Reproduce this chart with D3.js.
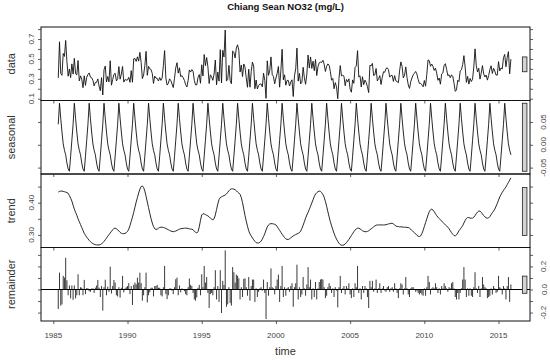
<!DOCTYPE html>
<html><head><meta charset="utf-8">
<script src="https://cdn.jsdelivr.net/npm/d3@7"></script>
<style>body{margin:0;background:#fff;} svg{display:block;}</style>
</head><body><svg id="c" width="550" height="361"></svg>
<script>
// ---------------- data (monthly, first observation May 1985) ----------------
const title = "Chiang Sean NO32 (mg/L)";
const startYear = 1985, startMonth = 5;
const componentNames = ["data", "seasonal", "trend", "remainder"];
const xLabel = "time";

// periodic seasonal component, 12 values starting at the first observed month
const seasonalCycle = [0.045, 0.091, 0.058, 0.028, 0.002, -0.012, -0.022, -0.040, -0.053, -0.058, -0.025, 0.010];

const trend = [
0.433,0.435,0.436,0.436,0.435,0.434,0.433,0.431,0.429,0.422,0.414,0.405,
0.392,0.380,0.370,0.361,0.350,0.341,0.332,0.323,0.314,0.305,0.299,0.293,
0.288,0.283,0.279,0.276,0.273,0.271,0.270,0.269,0.269,0.269,0.270,0.272,
0.276,0.280,0.285,0.290,0.296,0.301,0.306,0.311,0.316,0.320,0.321,0.319,
0.316,0.312,0.308,0.305,0.304,0.304,0.305,0.307,0.311,0.318,0.329,0.342,
0.355,0.370,0.386,0.402,0.416,0.430,0.442,0.450,0.452,0.447,0.436,0.420,
0.402,0.385,0.367,0.351,0.337,0.326,0.319,0.317,0.318,0.321,0.323,0.324,
0.324,0.323,0.322,0.320,0.318,0.316,0.314,0.312,0.311,0.310,0.311,0.312,
0.314,0.316,0.318,0.319,0.320,0.320,0.321,0.321,0.321,0.320,0.319,0.318,
0.318,0.316,0.312,0.308,0.306,0.310,0.325,0.345,0.362,0.366,0.365,0.363,
0.361,0.359,0.356,0.352,0.349,0.347,0.350,0.362,0.379,0.396,0.410,0.416,
0.418,0.420,0.422,0.424,0.427,0.432,0.437,0.441,0.443,0.443,0.442,0.440,
0.437,0.433,0.430,0.426,0.416,0.400,0.380,0.360,0.343,0.327,0.313,0.303,
0.297,0.291,0.285,0.280,0.276,0.275,0.275,0.277,0.281,0.287,0.295,0.304,
0.315,0.325,0.331,0.334,0.335,0.335,0.334,0.333,0.331,0.326,0.320,0.314,
0.308,0.302,0.297,0.292,0.288,0.286,0.286,0.288,0.291,0.294,0.297,0.299,
0.301,0.303,0.305,0.307,0.312,0.320,0.330,0.341,0.352,0.362,0.370,0.379,
0.389,0.399,0.409,0.419,0.427,0.431,0.434,0.436,0.435,0.431,0.425,0.417,
0.404,0.389,0.372,0.356,0.341,0.328,0.316,0.305,0.295,0.287,0.280,0.274,
0.270,0.268,0.268,0.269,0.272,0.276,0.281,0.286,0.292,0.298,0.304,0.310,
0.315,0.319,0.321,0.321,0.319,0.316,0.313,0.311,0.310,0.310,0.311,0.313,
0.316,0.319,0.322,0.325,0.328,0.330,0.331,0.331,0.331,0.331,0.331,0.331,
0.331,0.332,0.333,0.334,0.335,0.336,0.336,0.334,0.331,0.328,0.326,0.326,
0.325,0.325,0.325,0.324,0.324,0.324,0.323,0.323,0.321,0.318,0.314,0.310,
0.307,0.303,0.299,0.296,0.295,0.297,0.304,0.314,0.326,0.338,0.350,0.362,
0.372,0.378,0.380,0.377,0.372,0.366,0.360,0.355,0.351,0.347,0.343,0.339,
0.335,0.331,0.328,0.324,0.319,0.313,0.307,0.302,0.298,0.297,0.300,0.306,
0.313,0.318,0.323,0.329,0.337,0.345,0.351,0.354,0.354,0.352,0.352,0.352,
0.355,0.360,0.366,0.371,0.374,0.374,0.370,0.365,0.360,0.356,0.353,0.352,
0.353,0.357,0.363,0.369,0.374,0.380,0.389,0.398,0.408,0.418,0.425,0.432,
0.438,0.444,0.449,0.456,0.463,0.470,0.477];

const remainder = [
-0.169,0.146,-0.14,-0.129,0.118,0.103,0.275,0.08,-0.05,0.035,-0.077,0.035,
-0.09,0.035,-0.077,-0.05,0.132,-0.05,0.02,0.015,-0.05,0.083,-0.04,0.012,
0.01,-0.015,-0.02,0.008,0.01,-0.03,0.016,0.035,0.083,0.016,-0.065,0.03,
-0.183,0.02,0.085,-0.05,0.025,-0.02,0.198,-0.035,0.03,0.083,0.06,-0.05,
-0.06,0.02,-0.07,0.015,0.118,-0.025,0.01,0.02,0.03,0.055,-0.04,0.03,
-0.134,0.04,0.06,0.045,0.103,0.06,0.146,0.055,-0.097,-0.05,0.02,0.146,
-0.112,-0.05,-0.025,0.015,0.015,-0.06,0.03,0.03,0.04,0.015,0.015,-0.05,
-0.06,0.02,0.204,-0.04,-0.083,-0.05,0.008,0.01,-0.01,-0.04,0.02,0.089,
0.103,-0.05,0.035,-0.025,0.01,0.003,-0.015,-0.04,-0.05,0.02,0.095,0.04,
0.03,-0.03,-0.086,-0.097,-0.069,0.015,0.04,-0.05,0.132,0.02,0.204,0.06,
0.108,-0.03,-0.161,-0.04,-0.03,-0.05,0.02,0.167,-0.086,0.03,-0.108,0.167,
-0.204,0.075,0.04,0.339,-0.15,-0.129,0.02,-0.118,-0.14,0.194,0.15,0.06,
0.129,0.118,0.097,-0.086,0.02,-0.065,0.091,0.097,0.02,-0.054,0.108,-0.097,
0.03,0.086,0.086,-0.108,0.01,-0.065,-0.02,0.01,0.02,-0.01,0.086,-0.03,
-0.256,0.065,-0.054,0.02,0.183,0.02,0.01,-0.043,0.03,0.086,0.129,-0.108,
0.03,0.204,-0.065,0.02,-0.054,0.01,0.02,-0.02,0.03,0.054,-0.15,0.02,
0.054,0.215,-0.086,0.02,-0.065,-0.043,0.108,0.01,-0.054,0.043,0.194,0.02,
0.086,-0.086,0.01,-0.065,0.065,-0.086,0.01,0.065,0.086,0.091,0.086,0.02,
-0.075,-0.054,0.02,0.054,0.03,-0.03,0.01,-0.065,0.02,-0.01,-0.155,0.02,
0.118,-0.03,0.01,0.03,-0.043,0.03,0.01,0.054,-0.043,-0.075,0.01,-0.065,
0.054,0.02,0.204,-0.03,0.01,-0.086,0.03,-0.03,0.03,0.01,-0.065,-0.161,
0.075,0.02,0.075,-0.02,0.01,0.086,-0.03,0.01,0.054,-0.03,0.01,0.03,
-0.01,-0.02,0.02,0.03,-0.02,0.01,0.02,-0.02,0.054,0.01,-0.03,-0.075,
0.01,0.054,0.043,-0.043,0.01,0.108,0.01,-0.043,-0.065,0.01,0.02,0.02,
0.005,-0.02,-0.01,-0.03,-0.043,-0.03,-0.043,-0.054,0.01,-0.054,0.02,0.118,
0.065,-0.043,0.01,0.02,0.01,0.054,0.02,-0.03,0.01,-0.043,0.03,0.01,
0.054,0.03,0.01,-0.02,0.02,0.01,0.054,0.065,0.01,-0.065,-0.086,-0.03,
-0.086,-0.03,0.01,0.086,0.194,0.086,-0.065,0.01,-0.054,0.01,-0.054,-0.065,
0.02,0.15,0.01,-0.03,0.03,-0.065,0.01,0.108,0.043,0.02,0.01,-0.075,
-0.065,-0.054,0.01,-0.043,0.03,0.01,-0.03,-0.02,0.118,0.02,0.01,-0.043,
0.03,0.01,-0.086,0.03,0.108,-0.108,0.043];

// axis ticks (all drawn) and the ones that carry a label
const yearTicks = [1985, 1990, 1995, 2000, 2005, 2010, 2015];
const dataTicks = [0.1, 0.2, 0.3, 0.4, 0.5, 0.6, 0.7, 0.8];
const dataTickLabels = [0.1, 0.3, 0.5, 0.7];
const seasonalTicks = [-0.05, 0, 0.05];
const seasonalTickLabels = [-0.05, 0, 0.05];
const trendTicks = [0.30, 0.35, 0.40, 0.45];
const trendTickLabels = [0.30, 0.40];
const remainderTicks = [-0.2, -0.1, 0, 0.1, 0.2, 0.3];
const remainderTickLabels = [-0.2, 0, 0.2];

// ---------------- derived series ----------------
const times = trend.map((_, i) => startYear + (startMonth - 1) / 12 + i / 12);
const seasonal = trend.map((_, i) => seasonalCycle[i % 12]);
const data = trend.map((v, i) => seasonal[i] + v + remainder[i]);

// ---------------- layout ----------------
const L = 41, R = 530, T = 27, PH = 73.5;
const font = "'Liberation Sans', Arial, Helvetica, sans-serif";
const svg = d3.select("#c");
const loc = d3.formatLocale({decimal: ".", thousands: ",", grouping: [3], currency: ["", ""], minus: "-"});

const x = d3.scaleLinear().domain([1984.17, 2017.12]).range([L, R]);

const panels = [
  {name: componentNames[0], values: data, domain: [0.082, 0.821], ticks: dataTicks, labels: dataTickLabels, fmt: loc.format(".1f"), side: "left", type: "line"},
  {name: componentNames[1], values: seasonal, domain: [-0.064, 0.097], ticks: seasonalTicks, labels: seasonalTickLabels, fmt: loc.format(".2f"), side: "right", type: "line"},
  {name: componentNames[2], values: trend, domain: [0.261, 0.489], ticks: trendTicks, labels: trendTickLabels, fmt: loc.format(".2f"), side: "left", type: "line"},
  {name: componentNames[3], values: remainder, domain: [-0.273, 0.364], ticks: remainderTicks, labels: remainderTickLabels, fmt: loc.format(".1f"), side: "right", type: "h"}
];

// range bars: height = smallest range among components
const ranges = panels.map(p => d3.extent(p.values));
const mx = d3.min(ranges, r => r[1] - r[0]);
const dx = (R - L) / 64;

panels.forEach((p, k) => {
  const top = T + k * PH, bot = top + PH;
  const y = d3.scaleLinear().domain(p.domain).range([bot, top]);
  const g = svg.append("g");

  if (p.type === "line") {
    g.append("path")
      .datum(p.values)
      .attr("d", d3.line().x((d, i) => x(times[i])).y(d => y(d)))
      .attr("fill", "none").attr("stroke", "#111").attr("stroke-width", 0.9)
      .attr("stroke-linejoin", "round");
  } else {
    g.selectAll("line.h").data(p.values).join("line")
      .attr("x1", (d, i) => x(times[i])).attr("x2", (d, i) => x(times[i]))
      .attr("y1", y(0)).attr("y2", d => y(d))
      .attr("stroke", "#222").attr("stroke-width", 0.9);
    g.append("line").attr("x1", L).attr("x2", R).attr("y1", y(0)).attr("y2", y(0))
      .attr("stroke", "#000").attr("stroke-width", 1);
  }

  // range bar
  const c = (ranges[k][0] + ranges[k][1]) / 2;
  g.append("rect")
    .attr("x", R - dx).attr("width", 0.6 * dx)
    .attr("y", y(c + mx / 2)).attr("height", y(c - mx / 2) - y(c + mx / 2))
    .attr("fill", "#d3d3d3").attr("stroke", "#222").attr("stroke-width", 0.8);

  // box
  g.append("rect").attr("x", L).attr("y", top).attr("width", R - L).attr("height", PH)
    .attr("fill", "none").attr("stroke", "#111").attr("stroke-width", 1);

  // axes ticks
  const axL = d3.axisLeft(y).tickValues(p.ticks).tickSize(3).tickFormat("");
  const axR = d3.axisRight(y).tickValues(p.ticks).tickSize(3).tickFormat("");
  const axB = d3.axisBottom(x).tickValues(yearTicks).tickSize(3).tickFormat("");
  [[axL, `translate(${L},0)`], [axR, `translate(${R},0)`], [axB, `translate(0,${bot})`]].forEach(([ax, tr]) => {
    const a = g.append("g").attr("transform", tr).call(ax);
    a.select(".domain").remove();
    a.selectAll(".tick line").attr("stroke", "#333").attr("stroke-width", 0.8);
  });

  // tick labels (rotated, as R does with las = 0)
  const lx = p.side === "left" ? 33.8 : 546.5;
  p.labels.forEach(v => {
    g.append("text")
      .attr("x", lx).attr("y", y(v))
      .attr("transform", `rotate(-90,${lx},${y(v)})`)
      .attr("text-anchor", "middle")
      .attr("font-family", font).attr("font-size", 8).attr("fill", "#444")
      .text(p.fmt(v));
  });

  // panel label
  const cy = (top + bot) / 2;
  g.append("text")
    .attr("x", 14.5).attr("y", cy)
    .attr("transform", `rotate(-90,14.5,${cy})`)
    .attr("text-anchor", "middle")
    .attr("font-family", font).attr("font-size", 11).attr("fill", "#333")
    .text(p.name);

  if (k === panels.length - 1) {
    yearTicks.forEach(t => {
      g.append("text").attr("x", x(t)).attr("y", 337.5)
        .attr("text-anchor", "middle")
        .attr("font-family", font).attr("font-size", 8).attr("fill", "#444")
        .text(t);
    });
  }
});

svg.append("text").attr("x", (L + R) / 2).attr("y", 355)
  .attr("text-anchor", "middle").attr("font-family", font).attr("font-size", 11).attr("fill", "#333")
  .text(xLabel);

svg.append("text").attr("x", (L + R) / 2).attr("y", 10)
  .attr("text-anchor", "middle").attr("font-family", font).attr("font-size", 9.5)
  .attr("font-weight", "bold").attr("fill", "#111")
  .text(title);
</script>
</body></html>
